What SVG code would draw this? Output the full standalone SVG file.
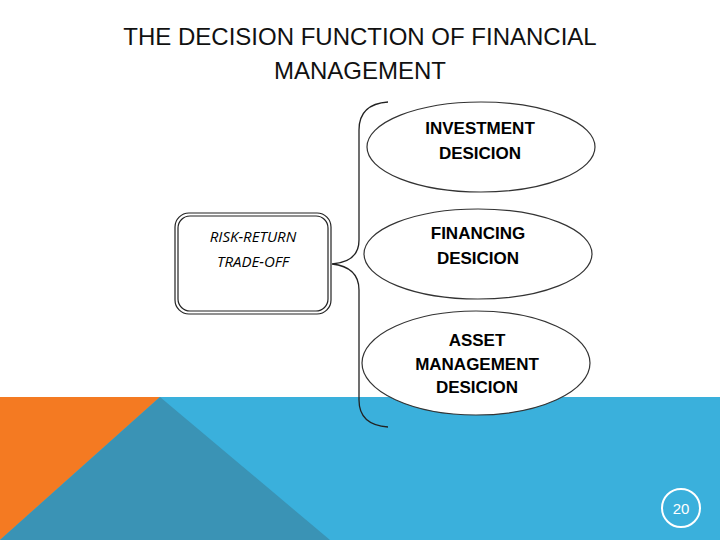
<svg xmlns="http://www.w3.org/2000/svg" width="720" height="540" viewBox="0 0 720 540">
<style>
.t{font-family:"Liberation Sans",Arial,sans-serif;font-weight:bold;font-size:17px;fill:#000;text-anchor:middle}
.e{fill:#fff;stroke:#333;stroke-width:1.2}
</style>
<rect width="720" height="540" fill="#fff"/>
<g id="background">
<rect x="0" y="397" width="720" height="143" fill="#3AB0DC"/>
<polygon points="0,397 160,397 0,540" fill="#F47A22"/>
<polygon points="160,397 330,540 0,540" fill="#3A93B5"/>
</g>
<text x="360" y="45" font-family="Liberation Sans,Arial,sans-serif" font-size="24" text-anchor="middle" fill="#111">THE DECISION FUNCTION OF FINANCIAL</text>
<text x="360" y="79" font-family="Liberation Sans,Arial,sans-serif" font-size="24" text-anchor="middle" fill="#111">MANAGEMENT</text>
<g id="connectors">
<path d="M388,102 Q359,104 359,130 L359,240 Q359,262 332,264 Q359,267 359,290 L359,400 Q359,425 388,427" fill="none" stroke="#222" stroke-width="1.3"/>
</g>
<g id="risk">
<rect x="175" y="213" width="156" height="101" rx="14" fill="#fff" stroke="#222" stroke-width="1.2"/>
<rect x="178" y="216" width="150" height="95" rx="12" fill="none" stroke="#222" stroke-width="1.2"/>
<text x="253" y="242" font-family="Open Sans,sans-serif" font-style="italic" font-size="15" text-anchor="middle">RISK-RETURN</text>
<text x="253" y="267" font-family="Open Sans,sans-serif" font-style="italic" font-size="15" text-anchor="middle">TRADE-OFF</text>
</g>
<g id="investment">
<ellipse class="e" cx="481" cy="147" rx="114" ry="45"/>
<text class="t" x="480" y="134">INVESTMENT</text>
<text class="t" x="480" y="159">DESICION</text>
</g>
<g id="financing">
<ellipse class="e" cx="478" cy="254" rx="114" ry="45"/>
<text class="t" x="478" y="239">FINANCING</text>
<text class="t" x="478" y="264">DESICION</text>
</g>
<g id="asset">
<ellipse class="e" cx="476" cy="363" rx="114" ry="52"/>
<text class="t" x="477" y="346">ASSET</text>
<text class="t" x="477" y="370">MANAGEMENT</text>
<text class="t" x="477" y="393">DESICION</text>
</g>
<g id="page">
<circle cx="681" cy="508" r="19" fill="none" stroke="#fff" stroke-width="2"/>
<text x="681" y="514" font-family="Liberation Sans,Arial,sans-serif" font-size="15" fill="#fff" text-anchor="middle">20</text>
</g>
</svg>
